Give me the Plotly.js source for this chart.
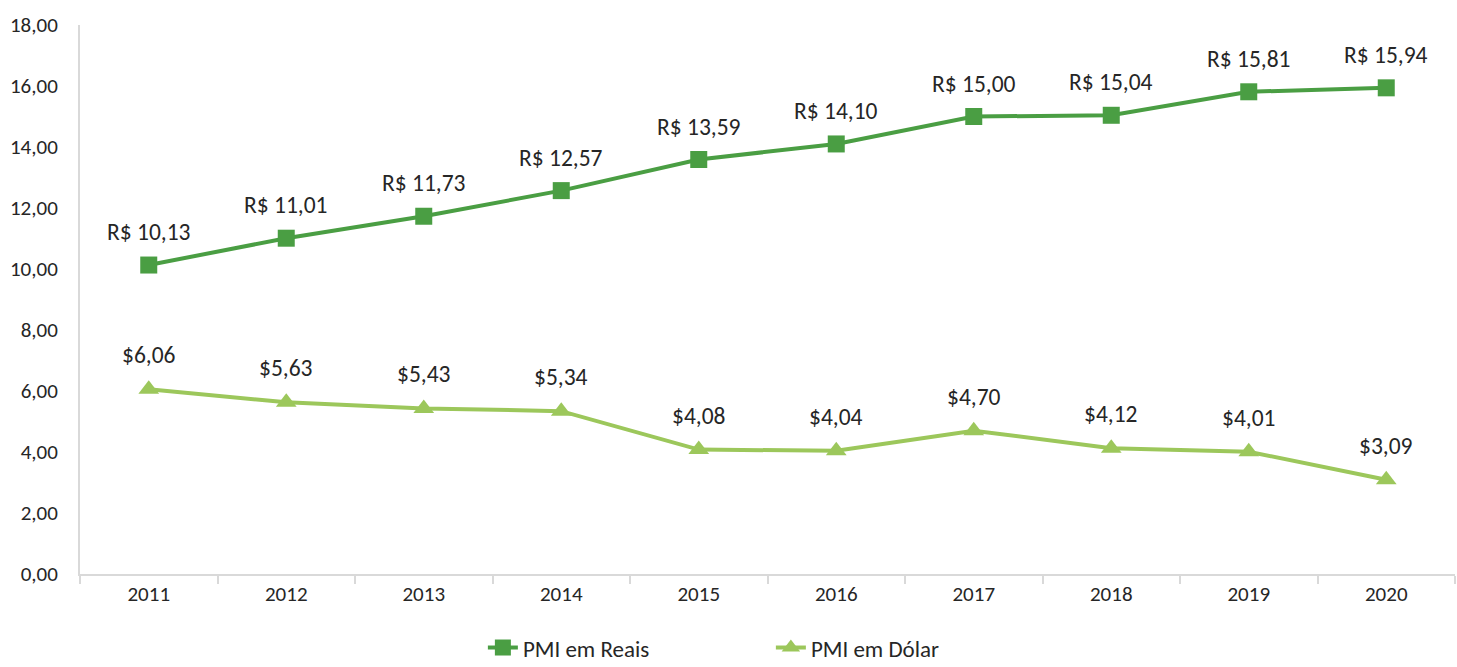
<!DOCTYPE html>
<html><head><meta charset="utf-8">
<script src="https://cdn.plot.ly/plotly-3.0.1.min.js"></script>
<style>html,body{margin:0;padding:0;background:#fff}#c{width:1457px;height:667px}</style>
</head><body><div id="c"></div>
<script>
const years = ['2011','2012','2013','2014','2015','2016','2017','2018','2019','2020'];
const pmiReais = [10.13, 11.01, 11.73, 12.57, 13.59, 14.10, 15.00, 15.04, 15.81, 15.94];
const pmiDolar = [6.06, 5.63, 5.43, 5.34, 4.08, 4.04, 4.70, 4.12, 4.01, 3.09];
const yTicks = [0,2,4,6,8,10,12,14,16,18];

const fmt = v => v.toFixed(2).replace('.', ',');
const darkG = '#4a9e43', lightG = '#9cc75b';
const font = 'Carlito, Lato, sans-serif';
const txt = '#262626';

const traces = [
  {x: years, y: pmiReais, name: 'PMI em Reais', type: 'scatter', mode: 'lines+markers',
   line: {color: darkG, width: 4}, marker: {symbol: 'square', size: 17, color: darkG}},
  {x: years, y: pmiDolar, name: 'PMI em Dólar', type: 'scatter', mode: 'lines+markers',
   line: {color: lightG, width: 4}, marker: {symbol: 'triangle-up', size: 18, color: lightG}}
];
const ann = [];
years.forEach((yr, i) => {
  ann.push({x: i, y: pmiReais[i], text: 'R$ ' + fmt(pmiReais[i]), showarrow: false, yshift: 33,
            font: {size: 23.5, color: txt, family: font}});
  ann.push({x: i, y: pmiDolar[i], text: '$' + fmt(pmiDolar[i]), showarrow: false, yshift: 34,
            font: {size: 23.5, color: txt, family: font}});
});

const layout = {
  width: 1457, height: 667,
  margin: {l: 80, r: 2, t: 25, b: 93, autoexpand: false},
  paper_bgcolor: '#fff', plot_bgcolor: '#fff',
  showlegend: true,
  legend: {orientation: 'h', x: 0.293, xanchor: 'left', y: -0.134, yanchor: 'middle',
           font: {size: 23, color: txt, family: font}, entrywidth: 243, entrywidthmode: 'pixels',
           traceorder: 'normal'},
  xaxis: {type: 'category', showgrid: false, showline: true, linecolor: '#d9d9d9', linewidth: 2,
          ticks: 'outside', tickcolor: '#d9d9d9', ticklen: 8, tickwidth: 2, tickson: 'boundaries',
          tickfont: {size: 21, color: txt, family: font}, range: [-0.5, 9.5], zeroline: false},
  yaxis: {range: [0, 18], tickvals: yTicks, ticktext: yTicks.map(fmt), showgrid: false,
          showline: true, linecolor: '#d9d9d9', linewidth: 2, zeroline: false, ticks: '',
          ticklabelstandoff: 16,
          tickfont: {size: 21, color: txt, family: font}},
  annotations: ann
};
Plotly.newPlot('c', traces, layout, {displayModeBar: false, staticPlot: true});
</script></body></html>
